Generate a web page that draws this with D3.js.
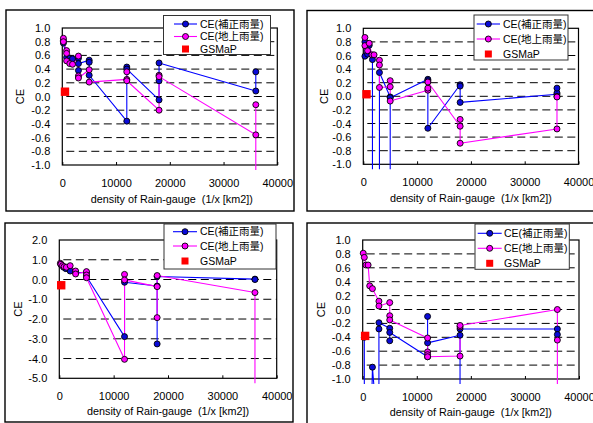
<!DOCTYPE html>
<html><head><meta charset="utf-8">
<script src="https://cdn.jsdelivr.net/npm/d3@7"></script>
<style>
body{margin:0;background:#fff}
text{font-family:"Liberation Sans","Noto Sans CJK JP",sans-serif;fill:#000}
</style>
</head><body>
<svg id="c" width="593" height="423"></svg>
<script>
// ---------- data ----------
const xTicks = [0, 10000, 20000, 30000, 40000];
const yTicksSmall = [1.0, 0.8, 0.6, 0.4, 0.2, 0.0, -0.2, -0.4, -0.6, -0.8, -1.0];
const yTicksLarge = [2, 1, 0, -1, -2, -3, -4, -5];
const legendLabels = ["CE(補正雨量)", "CE(地上雨量)", "GSMaP"];
const xLabel = "density of Rain-gauge \u00a0(1/x [km2])";
const yLabel = "CE";
const OFF = -9; // value far below the axis (line leaves the plot)

// panel 1 (top-left)
const p1Corrected = [[200,0.82],[200,0.78],[800,0.57],[1400,0.56],[1900,0.55],[3000,0.56],[3000,0.38],[3000,0.48],[5000,0.53],[5000,0.50],[5000,0.31],[12000,-0.36],[12000,0.43],[12000,0.40],[18000,-0.05],[18000,0.23],[18000,0.49],[36000,0.08],[36000,0.36]];
const p1Gauge = [[200,0.85],[200,0.80],[800,0.67],[800,0.63],[800,0.52],[1400,0.48],[1900,0.47],[3000,0.59],[3000,0.30],[3000,0.27],[5000,0.39],[5000,0.21],[12000,0.25],[12000,0.36],[12000,0.23],[18000,-0.20],[18000,0.31],[18000,0.29],[36000,-0.56],[36000,-0.12],[36000,OFF]];
const p1GSMaP = [[500,0.07]];

// panel 2 (top-right)
const p2Corrected = [[300,0.80],[300,0.59],[800,0.62],[1100,0.75],[1700,0.54],[1700,OFF],[3000,OFF],[3000,0.35],[5000,-0.01],[5000,OFF],[5000,-0.02],[12000,0.25],[12000,0.23],[12000,-0.47],[18000,0.17],[18000,0.15],[18000,-0.09],[36000,0.03],[36000,0.05],[36000,0.12]];
const p2Gauge = [[300,0.865],[300,0.745],[800,0.67],[1100,0.78],[1600,0.61],[2000,0.61],[3000,0.53],[3000,0.46],[3000,0.13],[5000,0.14],[5000,0.23],[5000,-0.07],[12000,0.09],[12000,0.12],[12000,0.21],[18000,-0.44],[18000,-0.34],[18000,-0.69],[36000,-0.48],[36000,0.00],[36000,-0.01]];
const p2GSMaP = [[600,0.03]];

// panel 3 (bottom-left)
const p3Corrected = [[300,0.75],[800,0.62],[1200,0.55],[2000,0.43],[3000,0.36],[5000,0.35],[5000,0.15],[12000,-2.89],[12000,-0.14],[18000,-0.33],[18000,-3.26],[18000,0.15],[36000,0.02],[36000,0.0]];
const p3Gauge = [[200,0.82],[300,0.77],[600,0.70],[900,0.65],[1300,0.62],[2000,0.70],[3000,0.43],[3000,0.28],[5000,0.40],[5000,0.23],[5000,0.09],[12000,-4.04],[12000,0.26],[12000,-0.02],[18000,-0.36],[18000,-1.93],[18000,0.20],[36000,-0.66],[36000,OFF]];
const p3GSMaP = [[350,-0.29]];

// panel 4 (bottom-right)
const p4Corrected = [[300,-0.40],[300,OFF],[1500,OFF],[1800,-0.83],[3000,OFF],[3000,-0.28],[3000,-0.19],[5000,-0.27],[5000,-0.45],[5000,-0.33],[12000,-0.68],[12000,-0.10],[12000,-0.48],[18000,-0.37],[18000,OFF],[18000,-0.28],[36000,-0.28],[36000,-0.36]];
const p4Gauge = [[100,0.81],[300,0.75],[600,0.64],[1000,0.64],[1300,0.34],[1800,0.30],[3000,0.12],[3000,0.05],[5000,0.10],[5000,-0.09],[5000,-0.15],[12000,-0.41],[12000,-0.61],[12000,-0.65],[12000,-0.68],[18000,-0.67],[18000,-0.25],[18000,-0.23],[36000,0.00],[36000,-0.44],[36000,OFF]];
const p4GSMaP = [[450,-0.38]];

// ---------- styles ----------
const BLUE = "#0000ff", BLUE_FILL = "#0a0ad8", PINK = "#ff00ff", RED = "#ff0000";

const svg = d3.select("#c");
const fmt = d => d3.format(".1f")(d).replace("\u2212", "-");

function drawPanel(cfg, idx) {
  const g = svg.append("g");
  const P = cfg.plot;
  g.append("rect").attr("x", cfg.frame[0]).attr("y", cfg.frame[1])
    .attr("width", cfg.frame[2]).attr("height", cfg.frame[3])
    .attr("fill", "#fff").attr("stroke", "#000").attr("stroke-width", 1.4);

  const x = d3.scaleLinear().domain([0, 40000]).range([P.l, P.r]);
  const y = d3.scaleLinear().domain([cfg.yTicks[cfg.yTicks.length - 1], cfg.yTicks[0]]).range([P.b, P.t]);

  // dashed gridlines
  g.append("g").selectAll("line")
    .data(cfg.yTicks.slice(1, -1))
    .join("line")
    .attr("x1", P.l).attr("x2", P.r)
    .attr("y1", d => y(d)).attr("y2", d => y(d))
    .attr("stroke", "#000").attr("stroke-width", 1)
    .attr("stroke-dasharray", "8,4.5").attr("stroke-dashoffset", -4);

  // plot box
  g.append("rect").attr("x", P.l).attr("y", P.t).attr("width", P.r - P.l).attr("height", P.b - P.t)
    .attr("fill", "none").attr("stroke", "#000").attr("stroke-width", 1.2);

  // x axis
  const xa = g.append("g").attr("transform", `translate(0,${P.b})`)
    .call(d3.axisBottom(x).tickValues(xTicks).tickSize(-3).tickPadding(14).tickFormat(d3.format("d")));
  xa.select(".domain").remove();
  xa.selectAll("line").attr("stroke", "#000");
  xa.selectAll("text").attr("font-size", 11).attr("font-family", "Liberation Sans");

  // y axis
  const ya = g.append("g").attr("transform", `translate(${P.l},0)`)
    .call(d3.axisLeft(y).tickValues(cfg.yTicks).tickSize(0).tickPadding(12).tickFormat(fmt));
  ya.select(".domain").remove();
  ya.selectAll("text").attr("font-size", 11).attr("font-family", "Liberation Sans");

  // axis titles
  g.append("text").attr("x", (P.l + P.r) / 2 + cfg.xLabelShift).attr("y", cfg.xLabelY)
    .attr("text-anchor", "middle").attr("font-size", 10.8).text(xLabel);
  g.append("text").attr("transform", `translate(${cfg.yLabelX},${(P.t + P.b) / 2}) rotate(-90)`)
    .attr("text-anchor", "middle").attr("font-size", 11).text(yLabel);

  // clip
  const cid = "clip" + idx;
  svg.append("clipPath").attr("id", cid).append("rect")
    .attr("x", P.l - 6).attr("y", P.t - 6).attr("width", P.r - P.l + 12).attr("height", P.b - P.t + 11);
  const area = g.append("g").attr("clip-path", `url(#${cid})`);

  const line = d3.line().x(d => x(d[0])).y(d => y(Math.max(d[1], cfg.yTicks[cfg.yTicks.length - 1] - 1)));
  const series = [
    { data: cfg.corrected, stroke: BLUE, fill: BLUE_FILL },
    { data: cfg.gauge, stroke: PINK, fill: PINK }
  ];
  series.forEach(s => {
    area.append("path").attr("d", line(s.data)).attr("fill", "none")
      .attr("stroke", s.stroke).attr("stroke-width", 1.1).attr("stroke-linejoin", "round");
  });
  series.forEach(s => {
    area.append("g").selectAll("circle")
      .data(s.data.filter(d => d[1] >= y.domain()[0] - 0.05))
      .join("circle")
      .attr("cx", d => x(d[0])).attr("cy", d => y(d[1])).attr("r", 3)
      .attr("fill", s.fill).attr("stroke", "#000").attr("stroke-width", 0.9);
  });
  // GSMaP
  g.append("g").selectAll("rect").data(cfg.gsmap).join("rect")
    .attr("x", d => x(d[0]) - 4.2).attr("y", d => y(d[1]) - 4.2)
    .attr("width", 8.4).attr("height", 8.4).attr("fill", RED);

  // legend
  const L = cfg.legend;
  const lg = g.append("g");
  lg.append("rect").attr("x", L.x).attr("y", L.y).attr("width", L.w).attr("height", L.h)
    .attr("fill", "#fff").attr("stroke", "#333").attr("stroke-width", 1);
  const cols = [{ s: BLUE, f: BLUE_FILL }, { s: PINK, f: PINK }];
  cols.forEach((c, i) => {
    lg.append("line").attr("x1", L.l1).attr("x2", L.l2).attr("y1", L.rows[i]).attr("y2", L.rows[i])
      .attr("stroke", c.s).attr("stroke-width", 1.1);
    lg.append("circle").attr("cx", (L.l1 + L.l2) / 2).attr("cy", L.rows[i]).attr("r", 3)
      .attr("fill", c.f).attr("stroke", "#000").attr("stroke-width", 0.9);
  });
  lg.append("rect").attr("x", (L.l1 + L.l2) / 2 - 3.5).attr("y", L.rows[2] - 3.5)
    .attr("width", 7).attr("height", 7).attr("fill", RED);
  legendLabels.forEach((t, i) => {
    lg.append("text").attr("x", L.tx).attr("y", L.rows[i]).attr("dy", "0.36em")
      .attr("font-size", 10.5).text(t);
  });
}

const panels = [
  { frame: [6, 10, 288, 201], plot: { l: 62.3, r: 277.3, t: 28, b: 165 }, yTicks: yTicksSmall,
    corrected: p1Corrected, gauge: p1Gauge, gsmap: p1GSMaP,
    legend: { x: 163.5, y: 15.5, w: 107, h: 39, rows: [24, 36.5, 49], l1: 174, l2: 197, tx: 200 },
    xLabelY: 203, xLabelShift: 2, yLabelX: 24 },
  { frame: [307, 10.5, 300, 200.5], plot: { l: 363.3, r: 578.5, t: 28.3, b: 164.3 }, yTicks: yTicksSmall,
    corrected: p2Corrected, gauge: p2Gauge, gsmap: p2GSMaP,
    legend: { x: 474, y: 15, w: 94, h: 45, rows: [24, 39, 54], l1: 476.7, l2: 500, tx: 503 },
    xLabelY: 201.5, xLabelShift: 0, yLabelX: 328 },
  { frame: [5, 223, 288, 199], plot: { l: 59.3, r: 276.7, t: 240, b: 378.3 }, yTicks: yTicksLarge,
    corrected: p3Corrected, gauge: p3Gauge, gsmap: p3GSMaP,
    legend: { x: 164, y: 224, w: 112, h: 45, rows: [231.7, 246, 261], l1: 173, l2: 197, tx: 200 },
    xLabelY: 415, xLabelShift: 0, yLabelX: 22 },
  { frame: [307, 223, 300, 210], plot: { l: 362.7, r: 579, t: 240, b: 379 }, yTicks: yTicksSmall,
    corrected: p4Corrected, gauge: p4Gauge, gsmap: p4GSMaP,
    legend: { x: 475, y: 224, w: 94.3, h: 45.3, rows: [233.3, 248.3, 263.3], l1: 477.7, l2: 501.7, tx: 504 },
    xLabelY: 415.5, xLabelShift: 0, yLabelX: 325 }
];
panels.forEach(drawPanel);
</script>
</body></html>
